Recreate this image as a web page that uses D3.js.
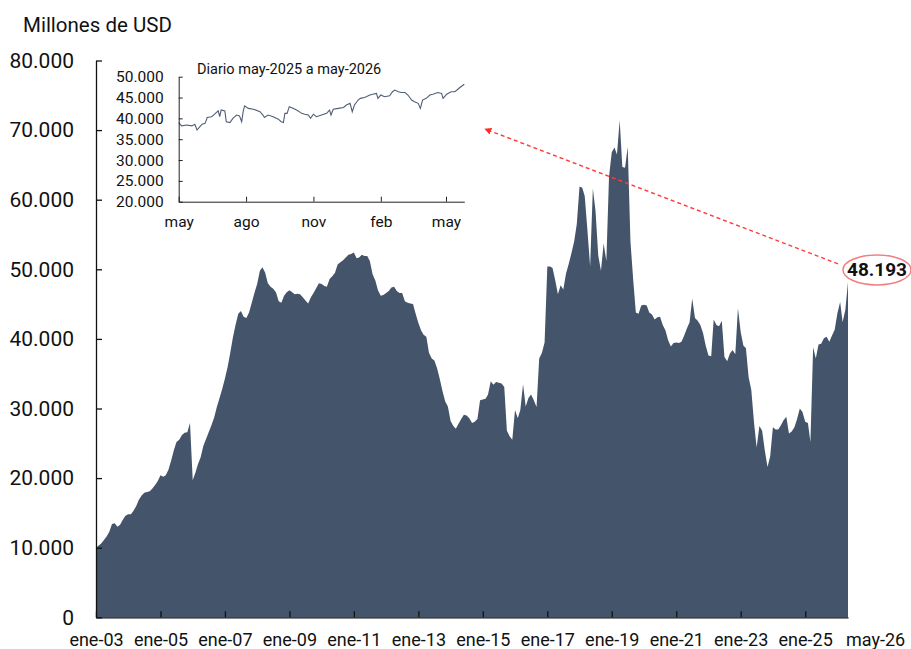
<!DOCTYPE html>
<html>
<head>
<meta charset="utf-8">
<script src="https://cdnjs.cloudflare.com/ajax/libs/d3/7.8.5/d3.min.js"></script>
<style>
  body { margin: 0; background: #fff; }
  svg { display: block; font-family: Roboto, sans-serif; }
</style>
</head>
<body>
<script>
// Reservas internacionales, millones de USD, mensual ene-03 a may-26
const meses = ['ene','feb','mar','abr','may','jun','jul','ago','sep','oct','nov','dic'];
const inicio = new Date(2003, 0, 1);
const reservas = [
  10000, 10300, 10600, 11100, 11600, 12300, 13400, 13500, 13000, 13300, 14000, 14600, // 2003
  14800, 14800, 15300, 16000, 16900, 17500, 17900, 18000, 18100, 18500, 19000, 19600, // 2004
  20400, 20200, 20400, 21200, 22500, 24000, 25200, 25500, 26200, 26500, 26600, 27900, // 2005
  19700, 20800, 22000, 23000, 24600, 25600, 26600, 27600, 28700, 30200, 31500, 32800, // 2006
  34300, 36000, 37900, 40200, 42000, 43600, 44000, 43200, 43000, 43800, 45200, 46600, // 2007
  47900, 49800, 50300, 49500, 48000, 47500, 47200, 46700, 45400, 45200, 46200, 46700, // 2008
  47000, 46700, 46400, 46500, 46400, 46000, 45500, 45100, 46000, 46600, 47300, 48000, // 2009
  47900, 47600, 47500, 48600, 49000, 49500, 50700, 51000, 51300, 51700, 52100, 52200, // 2010
  52400, 51600, 51700, 52100, 51900, 51900, 51200, 49300, 48400, 47000, 46200, 46300, // 2011
  46600, 46900, 47400, 47500, 46900, 46600, 46600, 45400, 45200, 45100, 45000, 43600, // 2012
  42300, 41200, 40600, 40300, 38000, 37200, 36900, 35800, 34200, 32500, 31000, 30300, // 2013
  28200, 27500, 27100, 27800, 28500, 29100, 29000, 28600, 27900, 28100, 28500, 31200, // 2014
  31300, 31400, 32000, 33900, 33400, 33800, 33700, 33600, 33100, 26800, 26000, 25500, // 2015
  29800, 28600, 29800, 33500, 30300, 31500, 32000, 31200, 30200, 37200, 38000, 39500, // 2016
  50400, 50400, 50200, 48400, 46400, 47700, 47100, 49400, 50800, 52300, 54000, 56500, // 2017
  61900, 61700, 60500, 55500, 50400, 61600, 58400, 52000, 49800, 53700, 51200, 63300, // 2018
  66800, 67500, 66500, 71400, 64700, 64600, 67600, 54000, 48500, 43800, 43600, 44800, // 2019
  44900, 44800, 43800, 43500, 42800, 43100, 43200, 42000, 41200, 39800, 38900, 39400, // 2020
  39500, 39400, 39600, 40500, 41500, 42400, 45800, 43000, 42600, 42000, 40800, 39000, // 2021
  37600, 37500, 42800, 42000, 41800, 42600, 37400, 36800, 37900, 38400, 37800, 44400, // 2022
  41000, 39000, 38700, 34500, 32700, 28000, 24400, 27500, 26800, 24000, 21600, 23100, // 2023
  27300, 27000, 27000, 27600, 28300, 28800, 26400, 26700, 27300, 28500, 30000, 29500, // 2024
  28100, 27900, 25200, 38800, 37200, 39200, 39300, 40100, 40300, 39600, 40500, 41300, // 2025
  43700, 45300, 42400, 44200, 48193                                                    // 2026
];
const ticksAnios = [2003, 2005, 2007, 2009, 2011, 2013, 2015, 2017, 2019, 2021, 2023, 2025];
const ticksY = [0, 10000, 20000, 30000, 40000, 50000, 60000, 70000, 80000];

// Diario may-2025 a may-2026
const diarioFechas = [
  '2025-05-01','2025-05-05','2025-05-12','2025-05-19','2025-05-23','2025-05-26','2025-05-30',
  '2025-06-02','2025-06-06','2025-06-09','2025-06-15','2025-06-19','2025-06-24','2025-06-26','2025-06-28',
  '2025-07-03','2025-07-05','2025-07-10','2025-07-14','2025-07-19','2025-07-23','2025-07-26','2025-07-28','2025-07-30',
  '2025-08-04','2025-08-11','2025-08-20','2025-08-24','2025-08-26','2025-08-31',
  '2025-09-07','2025-09-14','2025-09-18','2025-09-21','2025-09-23','2025-09-26','2025-09-29',
  '2025-10-04','2025-10-09','2025-10-16','2025-10-20','2025-10-25','2025-10-28',
  '2025-11-01','2025-11-05','2025-11-12','2025-11-19','2025-11-23','2025-11-25','2025-11-28',
  '2025-12-05','2025-12-12','2025-12-16','2025-12-21','2025-12-24','2025-12-27',
  '2026-01-01','2026-01-04','2026-01-10','2026-01-17','2026-01-21','2026-01-26','2026-01-28',
  '2026-02-01','2026-02-06','2026-02-13','2026-02-17','2026-02-20','2026-02-25',
  '2026-03-01','2026-03-06','2026-03-10','2026-03-15','2026-03-19','2026-03-24','2026-03-27','2026-03-30',
  '2026-04-04','2026-04-09','2026-04-13','2026-04-20','2026-04-25','2026-04-27',
  '2026-05-02','2026-05-08','2026-05-13','2026-05-16','2026-05-20','2026-05-26'
];
const diarioValores = [
  39000, 38200, 38400, 38200, 38600, 37200, 38000,
  38600, 38800, 40200, 40400, 41000, 41800, 40400, 42000,
  41800, 39200, 39000, 40000, 40800, 40600, 39200, 41600, 43000,
  42400, 42200, 41600, 40800, 40200, 40800,
  40400, 39800, 39200, 39000, 41200, 41200, 42800,
  42400, 42000, 41200, 41000, 40800, 40000,
  41000, 40400, 40800, 41200, 42000, 40800, 42200,
  42400, 42600, 43200, 43600, 41600, 43200,
  44400, 44800, 45000, 45600, 45800, 46000, 44800,
  45600, 45200, 45400, 46400, 46800, 46400,
  46200, 46200, 45600, 44400, 44000, 43600, 42400, 44400,
  44800, 45600, 45800, 46200, 46000, 44800,
  45800, 46400, 46400, 46800, 47400, 48193
];
const ticksDiarioY = [20000, 25000, 30000, 35000, 40000, 45000, 50000];

const es = d3.formatLocale({decimal: ',', thousands: '.', grouping: [3], currency: ['$', '']});
const miles = es.format(',');
const etiquetaMes = d => meses[d.getMonth()] + '-' + String(d.getFullYear()).slice(2);

const svg = d3.select(document.body).append('svg')
  .attr('width', 911).attr('height', 649);

const serie = reservas.map((v, i) => ({fecha: d3.timeMonth.offset(inicio, i), valor: v}));
const fin = serie[serie.length - 1];

const x = d3.scaleTime().domain([inicio, fin.fecha]).range([96, 848]);
const y = d3.scaleLinear().domain([0, 80000]).range([617.3, 60.5]);

// area principal
const area = d3.area()
  .x(d => x(d.fecha))
  .y0(y(0))
  .y1(d => y(d.valor));

svg.append('path')
  .datum(serie)
  .attr('d', area)
  .attr('fill', '#44546a');

// ejes principales
const ejeY = svg.append('g')
  .attr('transform', `translate(${x.range()[0]},0)`)
  .call(d3.axisLeft(y).tickValues(ticksY).tickSize(-6).tickSizeOuter(0)
    .tickPadding(22).tickFormat(miles));

const ejeX = svg.append('g')
  .attr('transform', `translate(0,${y(0)})`)
  .call(d3.axisBottom(x).tickValues(ticksAnios.map(a => new Date(a, 0, 1)))
    .tickSize(-6).tickSizeOuter(0).tickPadding(16).tickFormat(etiquetaMes));

[ejeY, ejeX].forEach(g => {
  g.selectAll('path, line').attr('stroke', '#111').attr('stroke-width', 1.3);
  g.selectAll('text').attr('fill', '#111').attr('font-family', 'Roboto, sans-serif');
});
ejeY.selectAll('text').attr('font-size', 21);
ejeX.selectAll('text').attr('font-size', 18);

svg.append('text')
  .attr('x', x(fin.fecha) - 2)
  .attr('y', y(0) + 16)
  .attr('dy', '0.71em')
  .attr('font-size', 18)
  .attr('fill', '#111')
  .text(etiquetaMes(fin.fecha));

svg.append('text')
  .attr('x', 23).attr('y', 32)
  .attr('font-size', 20.5)
  .attr('fill', '#111')
  .text('Millones de USD');

// grafico interno diario
const diario = diarioFechas.map((f, i) => ({fecha: d3.timeParse('%Y-%m-%d')(f), valor: diarioValores[i]}));
const xi = d3.scaleTime().domain([new Date(2025, 4, 1), new Date(2026, 4, 26)]).range([178.7, 464.3]);
const yi = d3.scaleLinear().domain([20000, 50000]).range([201.7, 76.7]);

svg.append('path')
  .datum(diario)
  .attr('d', d3.line().x(d => xi(d.fecha)).y(d => yi(d.valor)))
  .attr('fill', 'none')
  .attr('stroke', '#4f5e75')
  .attr('stroke-width', 1.1);

const ejeYi = svg.append('g')
  .attr('transform', `translate(${xi.range()[0]},0)`)
  .call(d3.axisLeft(yi).tickValues(ticksDiarioY).tickSize(-4).tickSizeOuter(0)
    .tickPadding(15).tickFormat(miles));

const ejeXi = svg.append('g')
  .attr('transform', `translate(0,${yi.range()[0]})`)
  .call(d3.axisBottom(xi).tickValues(d3.timeMonth.range(new Date(2025, 4, 1), new Date(2026, 4, 2), 3))
    .tickSize(-5).tickSizeOuter(0).tickPadding(14).tickFormat(d => meses[d.getMonth()]));

[ejeYi, ejeXi].forEach(g => {
  g.selectAll('path, line').attr('stroke', '#222').attr('stroke-width', 1);
  g.selectAll('text').attr('fill', '#111').attr('font-size', 15.5).attr('font-family', 'Roboto, sans-serif');
});

svg.append('text')
  .attr('x', 197).attr('y', 74)
  .attr('font-size', 14.5)
  .attr('fill', '#111')
  .text('Diario may-2025 a may-2026');

// anotacion del ultimo dato
const cx = x(fin.fecha) + 29;
const cy = y(fin.valor) - 12;

svg.append('defs').append('marker')
  .attr('id', 'punta')
  .attr('viewBox', '0 0 10 10')
  .attr('refX', 9).attr('refY', 5)
  .attr('markerWidth', 5).attr('markerHeight', 5)
  .attr('orient', 'auto')
  .append('path')
  .attr('d', 'M0,0L10,5L0,10Z')
  .attr('fill', '#ff2a2a');

svg.append('line')
  .attr('x1', cx - 39).attr('y1', cy - 6)
  .attr('x2', 485).attr('y2', 129)
  .attr('stroke', '#ff3b3b')
  .attr('stroke-width', 1.4)
  .attr('stroke-dasharray', '4,3')
  .attr('marker-end', 'url(#punta)');

svg.append('ellipse')
  .attr('cx', cx).attr('cy', cy)
  .attr('rx', 34).attr('ry', 15)
  .attr('fill', '#fff')
  .attr('stroke', '#f08080')
  .attr('stroke-width', 1.5);

svg.append('text')
  .attr('x', cx).attr('y', cy + 6.5)
  .attr('text-anchor', 'middle')
  .attr('font-size', 19)
  .attr('font-weight', 'bold')
  .attr('fill', '#111')
  .text(miles(fin.valor));
</script>
</body>
</html>
